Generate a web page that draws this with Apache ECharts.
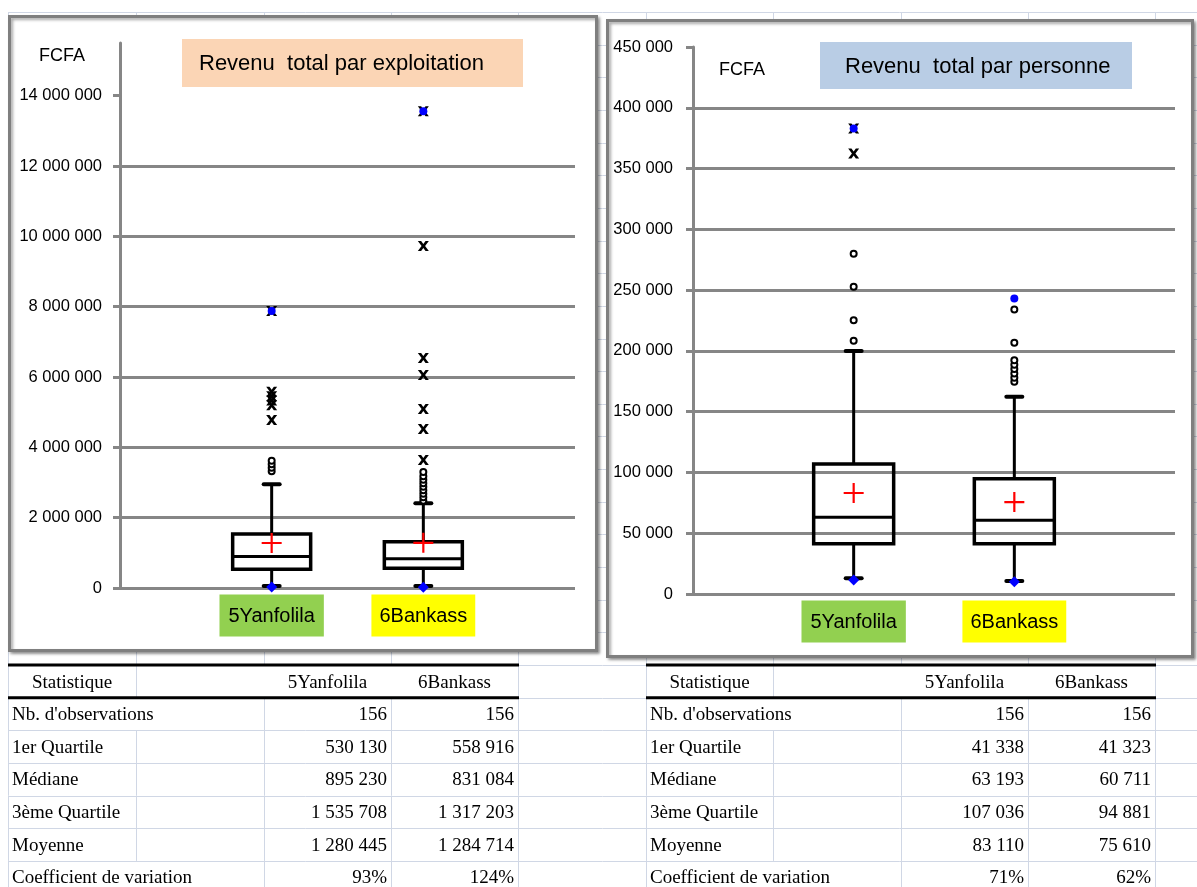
<!DOCTYPE html>
<html>
<head>
<meta charset="utf-8">
<title>Revenu total</title>
<script src="https://cdn.jsdelivr.net/npm/echarts@6/dist/echarts.min.js"></script>
<style>
html, body { margin: 0; padding: 0; background: #fff; }
#main { width: 1197px; height: 887px; }
</style>
</head>
<body>
<div id="main"></div>
<script type="text/javascript">
var categories = ['5Yanfolila', '6Bankass'];
var nbObs = [156, 156];

// Revenu total par exploitation
var expTicks = [0, 2000000, 4000000, 6000000, 8000000, 10000000, 12000000, 14000000];
var expQ1 = [530130, 558916];
var expMedian = [895230, 831084];
var expQ3 = [1535708, 1317203];
var expMean = [1280445, 1284714];
var expCV = [93, 124];
var expWhiskerLow = [60000, 60000];
var expWhiskerHigh = [2950000, 2410000];
var expMin = [30000, 20000];
var expMax = [7880000, 13560000];
var expMaxIsExtreme = [true, true];
var expMild = [
    [3320000, 3420000, 3520000, 3620000],
    [2480000, 2580000, 2680000, 2780000, 2880000, 2980000, 3080000, 3180000, 3300000]
];
var expExtreme = [
    [4780000, 5200000, 5330000, 5450000, 5580000],
    [3640000, 4520000, 5090000, 6060000, 6540000, 9730000]
];

// Revenu total par personne
var persTicks = [0, 50000, 100000, 150000, 200000, 250000, 300000, 350000, 400000, 450000];
var persQ1 = [41338, 41323];
var persMedian = [63193, 60711];
var persQ3 = [107036, 94881];
var persMean = [83110, 75610];
var persCV = [71, 62];
var persWhiskerLow = [12900, 10700];
var persWhiskerHigh = [200000, 162300];
var persMin = [11500, 10000];
var persMax = [383000, 243200];
var persMaxIsExtreme = [true, false];
var persMild = [
    [208300, 225300, 252700, 280000],
    [174600, 178000, 181500, 185000, 188500, 192400, 206700, 234000]
];
var persExtreme = [
    [362400],
    []
];

var statLabels = ["Nb. d'observations", '1er Quartile', 'Médiane', '3ème Quartile', 'Moyenne', 'Coefficient de variation'];

var sans = '"Liberation Sans", Arial, sans-serif';
var serif = '"Liberation Serif", "Times New Roman", serif';
var gridGray = '#868686';
var sheetLine = '#d0d7e5';

var X_PATH = 'path://M0,0L3,0L5,3L7,0L10,0L6.6,5L10,10L7,10L5,7L3,10L0,10L3.4,5Z';
var PLUS_PATH = 'path://M4.45,0H5.55V4.45H10V5.55H5.55V10H4.45V5.55H0V4.45H4.45Z';

function fmt(v) {
    return String(v).replace(/\B(?=(\d{3})+(?!\d))/g, ' ');
}

var boxChart = echarts.init(document.getElementById('main'));

// ---- feuille excel (quadrillage) ----
var sheetCols = [8, 136, 264, 391, 518, 646, 773, 901, 1028, 1155];
var rowTop = 12, rowH = 32.65;
function rowY(k) { return rowTop + rowH * k; }

var elements = [];
var k, c;
for (k = 0; k < 28; k++) {
    elements.push({ type: 'line', z: -30, silent: true,
        shape: { x1: 8, y1: Math.round(rowY(k)) + 0.5, x2: 1197, y2: Math.round(rowY(k)) + 0.5 },
        style: { stroke: sheetLine, lineWidth: 1 } });
    for (c = 0; c < sheetCols.length; c++) {
        var x = sheetCols[c];
        if (k === 20 && (x === 264 || x === 391 || x === 901 || x === 1028)) continue;
        if ((k === 21 || k === 26) && (x === 136 || x === 773)) continue;
        elements.push({ type: 'line', z: -30, silent: true,
            shape: { x1: x + 0.5, y1: rowY(k), x2: x + 0.5, y2: rowY(k + 1) },
            style: { stroke: sheetLine, lineWidth: 1 } });
    }
}

// ---- cadres des graphiques ----
elements.push({ type: 'rect', z: -20, silent: true,
    shape: { x: 9.5, y: 16.5, width: 587, height: 634 },
    style: { fill: '#fff', stroke: '#7f7f7f', lineWidth: 3, shadowBlur: 3, shadowOffsetX: 2, shadowOffsetY: 2, shadowColor: 'rgba(0,0,0,0.35)' } });
elements.push({ type: 'rect', z: -20, silent: true,
    shape: { x: 607.5, y: 20.5, width: 585, height: 636 },
    style: { fill: '#fff', stroke: '#7f7f7f', lineWidth: 3, shadowBlur: 3, shadowOffsetX: 2, shadowOffsetY: 2, shadowColor: 'rgba(0,0,0,0.35)' } });

// titres et unités
elements.push({ type: 'rect', z: 10, silent: true, shape: { x: 182, y: 39, width: 341, height: 48 }, style: { fill: '#fbd5b5' } });
elements.push({ type: 'text', z: 11, silent: true, x: 199, y: 64,
    style: { text: 'Revenu  total par exploitation', fontFamily: sans, fontSize: 22, fill: '#000', align: 'left', verticalAlign: 'middle' } });
elements.push({ type: 'text', z: 11, silent: true, x: 39, y: 56,
    style: { text: 'FCFA', fontFamily: sans, fontSize: 18, fill: '#000', align: 'left', verticalAlign: 'middle' } });
elements.push({ type: 'rect', z: 10, silent: true, shape: { x: 820, y: 42, width: 312, height: 47 }, style: { fill: '#b9cde5' } });
elements.push({ type: 'text', z: 11, silent: true, x: 845, y: 67,
    style: { text: 'Revenu  total par personne', fontFamily: sans, fontSize: 22, fill: '#000', align: 'left', verticalAlign: 'middle' } });
elements.push({ type: 'text', z: 11, silent: true, x: 719, y: 70,
    style: { text: 'FCFA', fontFamily: sans, fontSize: 18, fill: '#000', align: 'left', verticalAlign: 'middle' } });

// ---- tableaux ----
function addTable(cols, q1, med, q3, mean, cv) {
    var rows = [
        [statLabels[0], fmt(nbObs[0]), fmt(nbObs[1])],
        [statLabels[1], fmt(q1[0]), fmt(q1[1])],
        [statLabels[2], fmt(med[0]), fmt(med[1])],
        [statLabels[3], fmt(q3[0]), fmt(q3[1])],
        [statLabels[4], fmt(mean[0]), fmt(mean[1])],
        [statLabels[5], cv[0] + '%', cv[1] + '%']
    ];
    var tf = { fontFamily: serif, fontSize: 19, fill: '#000', verticalAlign: 'middle' };
    var yh = (rowY(20) + rowY(21)) / 2 + 2;
    elements.push({ type: 'text', z: 5, x: (cols[0] + cols[1]) / 2, y: yh, style: Object.assign({ text: 'Statistique', align: 'center' }, tf) });
    elements.push({ type: 'text', z: 5, x: (cols[2] + cols[3]) / 2, y: yh, style: Object.assign({ text: categories[0], align: 'center' }, tf) });
    elements.push({ type: 'text', z: 5, x: (cols[3] + cols[4]) / 2, y: yh, style: Object.assign({ text: categories[1], align: 'center' }, tf) });
    rows.forEach(function (r, i) {
        var y = (rowY(21 + i) + rowY(22 + i)) / 2 + 1;
        elements.push({ type: 'text', z: 5, x: cols[0] + 4, y: y, style: Object.assign({ text: r[0], align: 'left' }, tf) });
        elements.push({ type: 'text', z: 5, x: cols[3] - 4, y: y, style: Object.assign({ text: r[1], align: 'right' }, tf) });
        elements.push({ type: 'text', z: 5, x: cols[4] - 4, y: y, style: Object.assign({ text: r[2], align: 'right' }, tf) });
    });
    [rowY(20), rowY(21)].forEach(function (y) {
        elements.push({ type: 'line', z: 6, shape: { x1: cols[0], y1: y, x2: cols[4] + 1, y2: y }, style: { stroke: '#000', lineWidth: 3 } });
    });
}
addTable([8, 136, 264, 391, 518], expQ1, expMedian, expQ3, expMean, expCV);
addTable([646, 773, 901, 1028, 1155], persQ1, persMedian, persQ3, persMean, persCV);

// ---- boîtes à moustaches ----
function boxRenderer(half) {
    return function (params, api) {
        var cat = api.value(0);
        var lo = api.coord([cat, api.value(1)]);
        var q1 = api.coord([cat, api.value(2)]);
        var md = api.coord([cat, api.value(3)]);
        var q3 = api.coord([cat, api.value(4)]);
        var hi = api.coord([cat, api.value(5)]);
        var x = lo[0];
        var ln = { stroke: '#000', lineWidth: 3 };
        var cap = { stroke: '#000', lineWidth: 4, lineCap: 'round' };
        return { type: 'group', children: [
            { type: 'line', shape: { x1: x, y1: hi[1], x2: x, y2: q3[1] }, style: ln },
            { type: 'line', shape: { x1: x, y1: q1[1], x2: x, y2: lo[1] }, style: ln },
            { type: 'line', shape: { x1: x - 8, y1: hi[1], x2: x + 8, y2: hi[1] }, style: cap },
            { type: 'line', shape: { x1: x - 8, y1: lo[1], x2: x + 8, y2: lo[1] }, style: cap },
            { type: 'rect', shape: { x: x - half, y: q3[1], width: half * 2, height: q1[1] - q3[1] }, style: { fill: 'none', stroke: '#000', lineWidth: 3.5 } },
            { type: 'line', shape: { x1: x - half, y1: md[1], x2: x + half, y2: md[1] }, style: ln }
        ] };
    };
}

function buildSeries(idx, half, wLo, q1, med, q3, wHi, mean, mn, mx, mxExt, mild, extreme) {
    var boxData = [], mildData = [], extData = [], meanData = [], minData = [], maxData = [], maxXData = [];
    categories.forEach(function (cat, i) {
        boxData.push([cat, wLo[i], q1[i], med[i], q3[i], wHi[i]]);
        mild[i].forEach(function (v) { mildData.push([cat, v]); });
        extreme[i].forEach(function (v) { extData.push([cat, v]); });
        meanData.push([cat, mean[i]]);
        minData.push([cat, mn[i]]);
        maxData.push([cat, mx[i]]);
        if (mxExt[i]) maxXData.push([cat, mx[i]]);
    });
    var base = { xAxisIndex: idx, yAxisIndex: idx, silent: true, animation: false };
    return [
        Object.assign({ type: 'custom', z: 3, renderItem: boxRenderer(half), data: boxData,
            encode: { x: 0, y: [1, 2, 3, 4, 5] } }, base),
        Object.assign({ type: 'scatter', z: 4, symbol: 'circle', symbolSize: 6, data: mildData,
            itemStyle: { color: '#fff', borderColor: '#000', borderWidth: 2, opacity: 1 } }, base),
        Object.assign({ type: 'scatter', z: 4, symbol: X_PATH, symbolSize: [11, 10], data: extData.concat(maxXData),
            itemStyle: { color: '#000', opacity: 1 } }, base),
        Object.assign({ type: 'scatter', z: 5, symbol: 'diamond', symbolSize: 11, data: minData,
            itemStyle: { color: '#0000ff', opacity: 1 } }, base),
        Object.assign({ type: 'scatter', z: 5, symbol: 'circle', symbolSize: 8, data: maxData,
            itemStyle: { color: '#0000ff', opacity: 1 } }, base),
        Object.assign({ type: 'scatter', z: 6, symbol: PLUS_PATH, symbolSize: 20, data: meanData,
            itemStyle: { color: '#ff0000', opacity: 1 } }, base)
    ];
}

function valueAxis(idx, max, interval, ticks, margin) {
    return {
        type: 'value', gridIndex: idx, min: 0, max: max, interval: interval,
        axisLine: { show: true, lineStyle: { color: gridGray, width: 3 } },
        axisTick: { show: true, length: 7, customValues: ticks, lineStyle: { color: gridGray, width: 3 } },
        axisLabel: { customValues: ticks, formatter: fmt, margin: margin, color: '#000', fontFamily: sans, fontSize: 16.5 },
        splitLine: { show: true, showMaxLine: false, lineStyle: { color: gridGray, width: 3 } }
    };
}

function catAxis(idx) {
    return {
        type: 'category', gridIndex: idx, boundaryGap: false,
        data: [''].concat(categories).concat(['']),
        axisLine: { show: false }, axisTick: { show: false },
        axisLabel: {
            interval: 0, margin: 16,
            formatter: function (v) {
                if (!v) return '';
                return '{' + (v === categories[0] ? 'g' : 'y') + '|' + v + '}';
            },
            rich: {
                g: { backgroundColor: '#92d050', padding: [12, 9, 10, 9], fontSize: 20, lineHeight: 23, fontFamily: sans, color: '#000' },
                y: { backgroundColor: '#ffff00', padding: [12, 8, 10, 8], fontSize: 20, lineHeight: 23, fontFamily: sans, color: '#000' }
            }
        },
        splitLine: { show: false }
    };
}

var option = {
    animation: false,
    backgroundColor: '#fff',
    graphic: { elements: elements },
    grid: [
        { left: 120, right: 1197 - 575, top: 43, bottom: 887 - 588, containLabel: false },
        { left: 693, right: 1197 - 1175, top: 47, bottom: 887 - 594, containLabel: false }
    ],
    xAxis: [catAxis(0), catAxis(1)],
    yAxis: [
        valueAxis(0, 15500000, 2000000, expTicks, 18),
        valueAxis(1, 450000, 50000, persTicks, 20)
    ],
    series: []
        .concat(buildSeries(0, 39, expWhiskerLow, expQ1, expMedian, expQ3, expWhiskerHigh, expMean, expMin, expMax, expMaxIsExtreme, expMild, expExtreme))
        .concat(buildSeries(1, 40, persWhiskerLow, persQ1, persMedian, persQ3, persWhiskerHigh, persMean, persMin, persMax, persMaxIsExtreme, persMild, persExtreme))
};

boxChart.setOption(option);
</script>
</body>
</html>
